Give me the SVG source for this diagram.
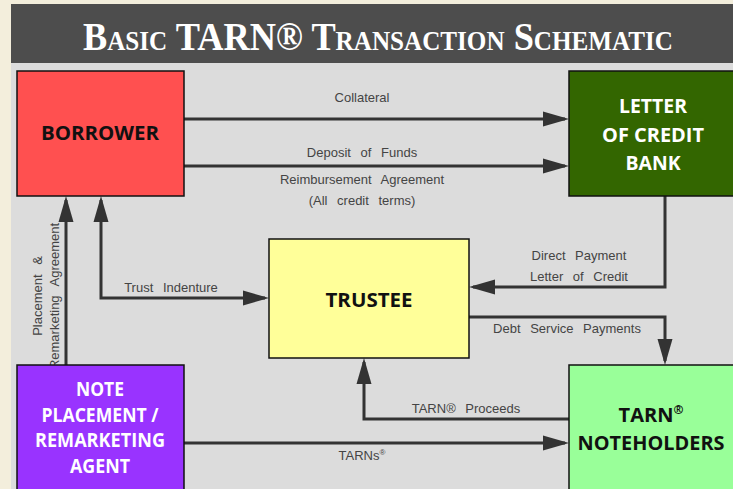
<svg xmlns="http://www.w3.org/2000/svg" width="733" height="489" viewBox="0 0 733 489">
<defs>
<marker id="ah" markerUnits="userSpaceOnUse" markerWidth="26" markerHeight="16" refX="22" refY="7.5" orient="auto-start-reverse" viewBox="0 0 26 15">
<path d="M0,0 L26,7.5 L0,15 z" fill="#333333"/>
</marker>
<style>
.node{stroke:#111;stroke-width:1.5}
.nt{font-family:"Open Sans","Liberation Sans",sans-serif;font-weight:bold;font-size:20px;text-anchor:middle}
.dk{fill:#111}
.wt{fill:#ffffff}
.lbl{font-family:"Liberation Sans",Arial,sans-serif;font-size:13px;fill:#444;text-anchor:middle;word-spacing:6px}
.conn path{fill:none;stroke:#333;stroke-width:3}
</style>
</defs>
<rect x="0" y="0" width="733" height="489" fill="#f3eedc"/>
<rect x="11" y="63" width="722" height="426" fill="#dcdcdc"/>
<g id="title">
<rect x="11" y="4" width="722" height="59" fill="#4d4d4d"/>
<text x="378" y="50" text-anchor="middle" textLength="590" lengthAdjust="spacingAndGlyphs" font-family="Liberation Serif, serif" font-weight="bold" font-variant="small-caps" fill="#ffffff" font-size="39">Basic TARN® Transaction Schematic</text>
</g>
<g class="conn" id="connectors">
<path d="M184,119 H565" marker-end="url(#ah)"/>
<path d="M184,166 H565" marker-end="url(#ah)"/>
<path d="M66,365 V200" marker-end="url(#ah)"/>
<path d="M101,200 V298 H265" marker-start="url(#ah)" marker-end="url(#ah)"/>
<path d="M665,196 V287 H473" marker-end="url(#ah)"/>
<path d="M469,317 H665 V361" marker-end="url(#ah)"/>
<path d="M570,419 H364 V362" marker-end="url(#ah)"/>
<path d="M184,443 H565" marker-end="url(#ah)"/>
</g>
<g id="labels">
<text class="lbl" x="362" y="102">Collateral</text>
<text class="lbl" x="362" y="157">Deposit of Funds</text>
<text class="lbl" x="362" y="184">Reimbursement Agreement</text>
<text class="lbl" x="362" y="205">(All credit terms)</text>
<text class="lbl" x="171" y="292">Trust Indenture</text>
<text class="lbl" x="579" y="260">Direct Payment</text>
<text class="lbl" x="579" y="281">Letter of Credit</text>
<text class="lbl" x="567" y="333">Debt Service Payments</text>
<text class="lbl" x="466" y="413">TARN® Proceeds</text>
<text class="lbl" x="362" y="460">TARNs<tspan font-size="8" dy="-5">®</tspan></text>
<text class="lbl" font-size="12" transform="translate(42,296) rotate(-90)" x="0" y="0">Placement &amp;</text>
<text class="lbl" font-size="12" transform="translate(59,296) rotate(-90)" x="0" y="0">Remarketing Agreement</text>
</g>
<g id="borrower">
<rect class="node" x="17" y="71" width="167" height="125" fill="#ff5050"/>
<text class="nt dk" x="100" y="140" textLength="118" lengthAdjust="spacingAndGlyphs">BORROWER</text>
</g>
<g id="loc-bank">
<rect class="node" x="569" y="71" width="170" height="125" fill="#336600"/>
<text class="nt wt" x="653" y="113" textLength="68" lengthAdjust="spacingAndGlyphs">LETTER</text>
<text class="nt wt" x="653" y="142" textLength="102" lengthAdjust="spacingAndGlyphs">OF CREDIT</text>
<text class="nt wt" x="653" y="170" textLength="55" lengthAdjust="spacingAndGlyphs">BANK</text>
</g>
<g id="trustee">
<rect class="node" x="269" y="239" width="200" height="119" fill="#ffff99"/>
<text class="nt dk" x="369" y="307" textLength="87" lengthAdjust="spacingAndGlyphs">TRUSTEE</text>
</g>
<g id="agent">
<rect class="node" x="17" y="365" width="167" height="130" fill="#9933ff"/>
<text class="nt wt" x="100" y="396" textLength="48" lengthAdjust="spacingAndGlyphs">NOTE</text>
<text class="nt wt" x="100" y="422" textLength="117" lengthAdjust="spacingAndGlyphs">PLACEMENT /</text>
<text class="nt wt" x="100" y="447" textLength="130" lengthAdjust="spacingAndGlyphs">REMARKETING</text>
<text class="nt wt" x="100" y="473" textLength="60" lengthAdjust="spacingAndGlyphs">AGENT</text>
</g>
<g id="noteholders">
<rect class="node" x="569" y="365" width="170" height="130" fill="#99ff99"/>
<text class="nt dk" x="651" y="422">TARN<tspan font-size="12" dy="-8">®</tspan></text>
<text class="nt dk" x="651" y="450" textLength="147" lengthAdjust="spacingAndGlyphs">NOTEHOLDERS</text>
</g>
</svg>
